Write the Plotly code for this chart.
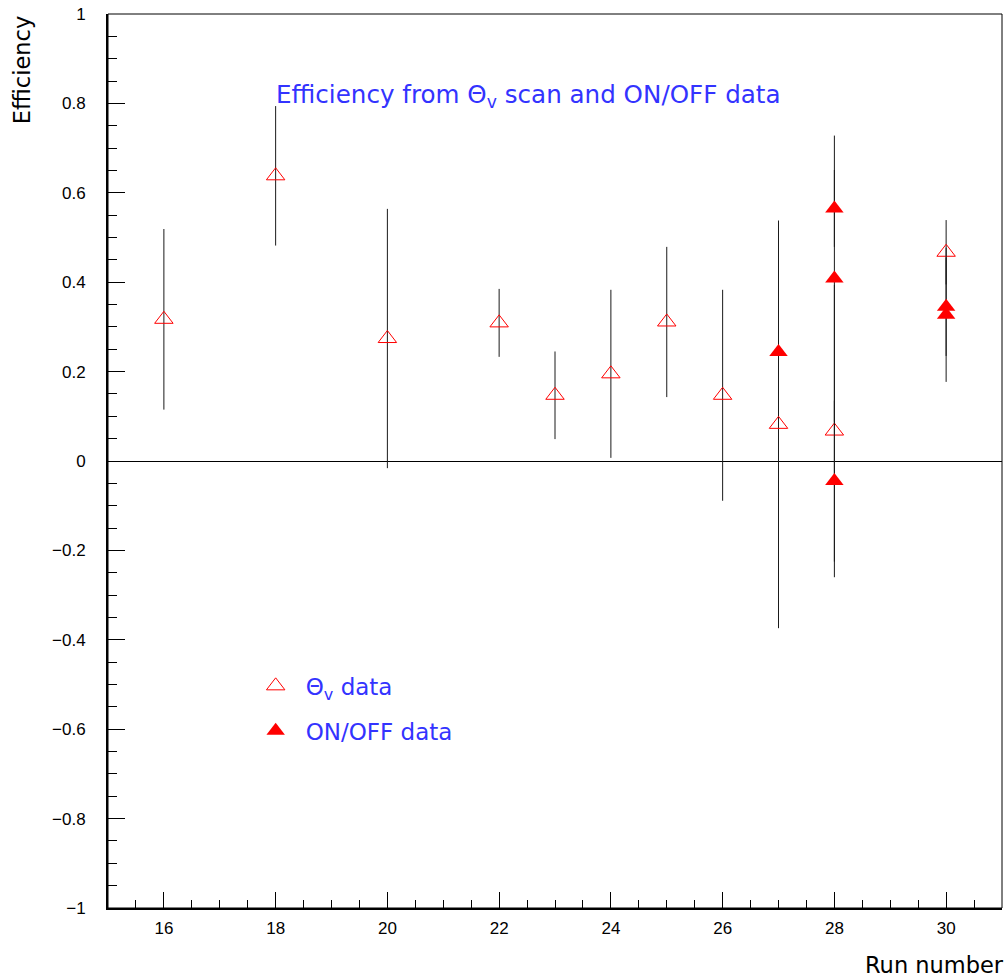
import plotly.graph_objects as go

# Efficiency from the Theta_v scan (open triangles)
theta_runs = [16, 18, 20, 22, 23, 24, 25, 26, 27, 28, 30]
theta_eff = [0.317, 0.638, 0.274, 0.309, 0.147, 0.195, 0.311, 0.147, 0.082, 0.067, 0.467]
theta_err = [0.202, 0.156, 0.290, 0.076, 0.098, 0.188, 0.168, 0.236, 0.456, 0.327, 0.072]

# Efficiency from ON/OFF data (filled triangles)
onoff_runs = [27, 28, 28, 28, 30, 30]
onoff_eff = [0.244, 0.565, 0.408, -0.045, 0.345, 0.327]
onoff_err = [0.082, 0.086, 0.320, 0.180, 0.110, 0.150]

RED = "#ff0000"
BLUE = "#3333ff"
TEXT_FONT = "DejaVu Sans"
TICK_FONT = "Liberation Sans"
MSIZE = 16

fig = go.Figure()

err_style = dict(type="data", visible=True, color="#1a1a1a", thickness=1, width=0)

fig.add_trace(go.Scatter(
    x=theta_runs, y=theta_eff, mode="markers",
    error_y=dict(array=theta_err, **err_style),
    marker=dict(symbol="triangle-up-open", size=MSIZE, color=RED, line=dict(color=RED, width=1)),
    showlegend=False,
))
fig.add_trace(go.Scatter(
    x=onoff_runs, y=onoff_eff, mode="markers",
    error_y=dict(array=onoff_err, **err_style),
    marker=dict(symbol="triangle-up", size=MSIZE, color=RED, line=dict(color=RED, width=0)),
    showlegend=False,
))

# Legend entries (markers only, without error bars)
fig.add_trace(go.Scatter(
    x=[None], y=[None], mode="markers", name="Θ<sub>v</sub> data", legendgroup="a",
    marker=dict(symbol="triangle-up-open", size=MSIZE, color=RED, line=dict(color=RED, width=1)),
))
fig.add_trace(go.Scatter(
    x=[None], y=[None], mode="markers", name="ON/OFF data", legendgroup="b",
    marker=dict(symbol="triangle-up", size=MSIZE, color=RED),
))

fig.update_layout(
    width=1006, height=979,
    margin=dict(l=108, r=4, t=14, b=71),
    plot_bgcolor="white", paper_bgcolor="white",
    legend=dict(
        x=0.154, y=0.2725, xanchor="left", yanchor="top",
        bgcolor="rgba(0,0,0,0)", tracegroupgap=12, itemwidth=50,
        font=dict(family=TEXT_FONT, size=23, color=BLUE),
    ),
    xaxis=dict(
        range=[15, 31], tick0=16, dtick=2,
        ticks="inside", ticklen=16, tickwidth=1, tickcolor="black",
        minor=dict(ticks="inside", ticklen=8, dtick=0.5, tickcolor="black", showgrid=False),
        showline=True, linewidth=2, linecolor="black",
        showgrid=False, zeroline=False,
        tickfont=dict(family=TICK_FONT, size=17, color="black"),
        ticklabelstandoff=4,
    ),
    yaxis=dict(
        range=[-1, 1], tick0=0, dtick=0.2,
        ticks="inside", ticklen=17, tickwidth=1, tickcolor="black",
        minor=dict(ticks="inside", ticklen=9, dtick=0.05, tickcolor="black", showgrid=False),
        showline=True, linewidth=2, linecolor="black",
        showgrid=False, zeroline=True, zerolinecolor="black", zerolinewidth=1,
        tickfont=dict(family=TICK_FONT, size=17, color="black"),
        ticklabelstandoff=17,
    ),
    shapes=[dict(type="rect", xref="paper", yref="paper", x0=0, x1=1, y0=0, y1=1,
                 line=dict(color="black", width=1), layer="above")],
    annotations=[
        dict(text="Efficiency from Θ<sub>v</sub> scan and ON/OFF data",
             xref="paper", yref="paper", x=0.186, y=0.908, xanchor="left", yanchor="middle",
             showarrow=False, font=dict(family=TEXT_FONT, size=24.6, color=BLUE)),
        dict(text="Efficiency", textangle=-90,
             xref="paper", yref="paper", x=-0.096, y=1.0, xanchor="center", yanchor="top",
             showarrow=False, font=dict(family=TEXT_FONT, size=22.5, color="black")),
        dict(text="Run number",
             xref="paper", yref="paper", x=1.005, y=-0.064, xanchor="right", yanchor="middle",
             showarrow=False, font=dict(family=TEXT_FONT, size=22.5, color="black")),
    ],
)

fig.write_html("out.html")
